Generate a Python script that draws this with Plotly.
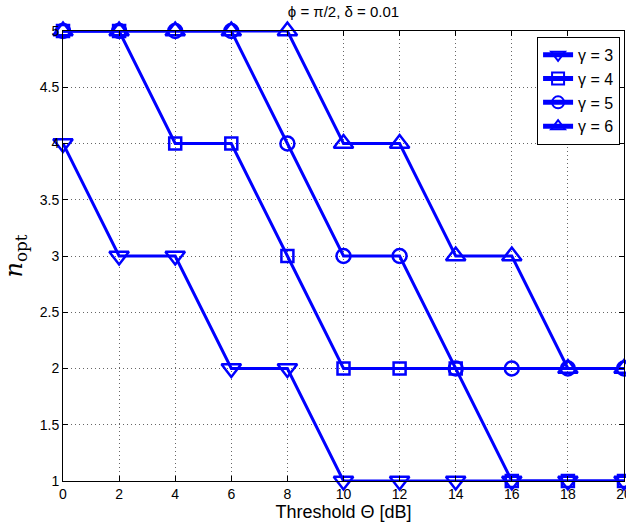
import plotly.graph_objects as go

theta_db = [0, 2, 4, 6, 8, 10, 12, 14, 16, 18, 20]
n_gamma3 = [4, 3, 3, 2, 2, 1, 1, 1, 1, 1, 1]
n_gamma4 = [5, 5, 4, 4, 3, 2, 2, 2, 1, 1, 1]
n_gamma5 = [5, 5, 5, 5, 4, 3, 3, 2, 2, 2, 2]
n_gamma6 = [5, 5, 5, 5, 5, 4, 4, 3, 3, 2, 2]
series_names = ["γ = 3", "γ = 4", "γ = 5", "γ = 6"]
x_ticks = [0, 2, 4, 6, 8, 10, 12, 14, 16, 18, 20]
y_ticks = [1, 1.5, 2, 2.5, 3, 3.5, 4, 4.5, 5]
y_tick_text = ["1", "1.5", "2", "2.5", "3", "3.5", "4", "4.5", "5"]

symbols = ["triangle-down-open", "square-open", "circle-open", "triangle-up-open"]
sizes = [17, 12, 14, 17]
blue = "rgb(0,0,255)"
font_sans = "Liberation Sans, Arial, sans-serif"

fig = go.Figure()
for name, ys, sym, sz in zip(series_names, [n_gamma3, n_gamma4, n_gamma5, n_gamma6], symbols, sizes):
    fig.add_trace(go.Scatter(
        x=theta_db, y=ys, name=name, mode="lines+markers",
        line=dict(color=blue, width=3),
        marker=dict(symbol=sym, size=sz, color=blue, line=dict(color=blue, width=2.5)),
        cliponaxis=False,
    ))

axis_common = dict(
    showline=True, linecolor="black", linewidth=1, mirror="ticks",
    ticks="inside", ticklen=5, tickcolor="black", tickwidth=1,
    showgrid=True, gridcolor="rgba(0,0,0,0.6)", griddash="1px,3px", gridwidth=1,
    zeroline=False, automargin=False, ticklabeloverflow="allow",
    tickfont=dict(family=font_sans, size=14, color="black"),
)

fig.update_layout(
    width=626, height=531,
    margin=dict(l=63, r=2, t=31, b=50),
    paper_bgcolor="white", plot_bgcolor="white",
    title=dict(text="ϕ = π/2, δ = 0.01", x=0.5487, xanchor="center", y=0.977, yanchor="middle",
               font=dict(family=font_sans, size=15, color="black")),
    xaxis=dict(range=[0, 20], tickvals=x_ticks, ticktext=[str(v) for v in x_ticks],
               title=dict(text="Threshold Θ [dB]", standoff=0,
                          font=dict(family=font_sans, size=18, color="black")),
               **axis_common),
    yaxis=dict(range=[1, 5], tickvals=y_ticks, ticktext=y_tick_text,
               title=dict(text="<i>n</i><sub>opt</sub>", standoff=10,
                          font=dict(family="DejaVu Serif, Liberation Serif, serif", size=24, color="black")),
               **axis_common),
    legend=dict(x=0.993, xanchor="right", y=0.987, yanchor="top",
                bgcolor="white", bordercolor="black", borderwidth=1,
                font=dict(family=font_sans, size=16, color="black"),
                tracegroupgap=0, itemsizing="constant", itemwidth=30),
    showlegend=True,
)

fig.write_html("out.html", config={"displayModeBar": False},
               post_script="document.body.style.margin='0';")
